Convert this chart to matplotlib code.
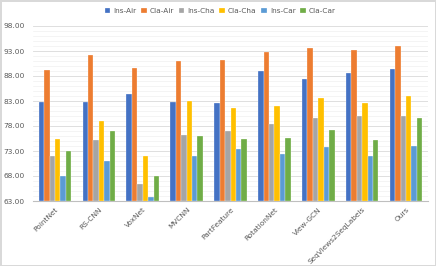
import numpy as np
import matplotlib
matplotlib.use("Agg")
import matplotlib.pyplot as plt
from matplotlib.ticker import MultipleLocator, FormatStrFormatter

methods = ["PointNet", "RS-CNN", "VoxNet", "MVCNN", "PartFeature",
           "RotationNet", "View-GCN", "SeqViews2SeqLabels", "Ours"]
series = ["Ins-Air", "Cla-Air", "Ins-Cha", "Cla-Cha", "Ins-Car", "Cla-Car"]
y_ticks = [63, 68, 73, 78, 83, 88, 93, 98]

ins_air = [82.7, 82.8, 84.4, 82.7, 82.5, 89.1, 87.4, 88.5, 89.4]
cla_air = [89.3, 92.3, 89.6, 91.1, 91.3, 92.7, 93.5, 93.3, 93.9]
ins_cha = [72.0, 75.2, 66.5, 76.2, 77.1, 78.4, 79.6, 79.9, 80.0]
cla_cha = [75.4, 79.0, 72.1, 82.9, 81.5, 82.1, 83.5, 82.5, 83.9]
ins_car = [68.1, 71.1, 63.7, 71.9, 73.4, 72.5, 73.7, 72.1, 73.9]
cla_car = [73.0, 77.1, 67.9, 76.1, 75.5, 75.6, 77.3, 75.3, 79.5]

colors = ["#4472C4", "#ED7D31", "#A5A5A5", "#FFC000", "#5B9BD5", "#70AD47"]

fig = plt.figure(figsize=(4.36, 2.66), dpi=100)
fig.patch.set_edgecolor("#D9D9D9")
fig.patch.set_linewidth(1.0)
ax = fig.add_axes([33 / 436, 1 - 201 / 266, 395 / 436, 175 / 266])

x = np.arange(len(methods))
w = 0.124
data = [ins_air, cla_air, ins_cha, cla_cha, ins_car, cla_car]
for i, (name, vals) in enumerate(zip(series, data)):
    ax.bar(x + (i - 2.5) * w, np.array(vals) - y_ticks[0], bottom=y_ticks[0], width=w,
           color=colors[i], edgecolor="white", linewidth=0.2, label=name, zorder=3)

ax.set_ylim(y_ticks[0], y_ticks[-1])
ax.set_xlim(-0.5, len(methods) - 0.5)
ax.set_yticks(y_ticks)
ax.yaxis.set_minor_locator(MultipleLocator(1))
ax.yaxis.set_major_formatter(FormatStrFormatter("%.2f"))
ax.grid(axis="y", which="major", color="#D9D9D9", linewidth=0.6, zorder=0)
ax.grid(axis="y", which="minor", color="#F0F0F0", linewidth=0.5, zorder=0)
ax.set_axisbelow(True)

for s in ["top", "right", "left"]:
    ax.spines[s].set_visible(False)
ax.spines["bottom"].set_color("#BFBFBF")
ax.spines["bottom"].set_linewidth(0.8)

ax.set_xticks(x)
ax.set_xticklabels(methods, rotation=45, ha="right", rotation_mode="anchor",
                   fontsize=5.3, color="#595959")
ax.tick_params(axis="x", length=0, pad=4)
ax.tick_params(axis="y", which="both", length=0, labelsize=5.3, labelcolor="#595959", pad=6)

fig.legend(loc="center", bbox_to_anchor=(0.505, 1 - 11 / 266), ncol=6, frameon=False,
           fontsize=5.3, handlelength=0.8, handleheight=0.8, handletextpad=0.4,
           columnspacing=0.6, labelcolor="#595959")

fig.savefig("out.png", dpi=100)
